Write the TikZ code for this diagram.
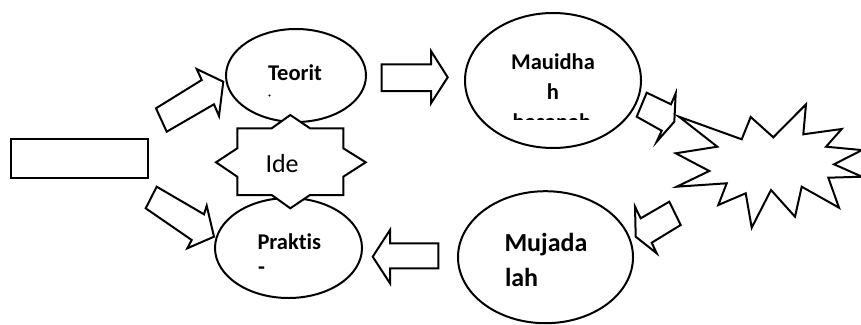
\documentclass[tikz,border=0pt]{standalone}
\usepackage{fontspec}
\setmainfont{Carlito}[Ligatures={NoCommon}]
\usetikzlibrary{shapes.geometric}
\begin{document}
\begin{tikzpicture}[x=1pt,y=-1pt, line width=2pt,
  shp/.style={draw=black, fill=white, line width=2pt},
  bubble/.style={ellipse, draw=black, line width=2pt, inner sep=0pt},
  lbl/.style={font=\bfseries\fontsize{22.5}{27}\selectfont, inner sep=0pt, anchor=base west},
  biglbl/.style={font=\bfseries\fontsize{26}{31}\selectfont, inner sep=0pt, anchor=base west}]
\useasboundingbox (0,0) rectangle (861,324);

% source box
\node[draw=black, line width=2pt, minimum width=136.7pt, minimum height=38.4pt, inner sep=0pt, anchor=north west] (src) at (10,138.3) {};

% ellipses
\node[bubble, minimum width=140pt, minimum height=93pt] (teorit) at (296,75.5) {};
\node[bubble, minimum width=147pt, minimum height=100pt] (praktis) at (288.5,248) {};
\node[bubble, minimum width=176pt, minimum height=135pt] (mauidhah) at (553,80.5) {};
\node[bubble, minimum width=175pt, minimum height=132pt] (mujadalah) at (545.5,257.2) {};

% Ide star
\draw[shp] (290.3,115) -- (310,128.3) -- (343.3,128.3) -- (343.3,148.3) -- (365.7,162.3)
  -- (343.3,176.7) -- (343.3,195) -- (310,195) -- (290.3,208.3) -- (271.7,195)
  -- (237.3,195) -- (237.3,176.7) -- (216,162.3) -- (237.3,148.3) -- (237.3,128.3)
  -- (271.7,128.3) -- cycle;
\node[font=\fontsize{26}{30}\selectfont, inner sep=0pt, anchor=base west] (ide) at (264.5,172.7) {Ide};

% block arrows
\draw[shp] (156,108.3) -- (201.7,80) -- (196.7,69) -- (223.3,81.7) -- (219,116) -- (214,104.3) -- (166.7,131.7) -- cycle;
\draw[shp] (156.7,186.7) -- (204,214.3) -- (206.7,205.7) -- (214,236.7) -- (187.3,248.3) -- (191.7,240) -- (145.7,208.3) -- cycle;
\draw[shp] (381.7,64.3) -- (431,64.3) -- (431,51) -- (447.7,77.3) -- (431,103.3) -- (431,91) -- (381.7,91) -- cycle;
\draw[shp] (646.7,92.7) -- (671,104.3) -- (675.7,93.3) -- (674.3,121.7) -- (656.7,141.7) -- (661.7,130.7) -- (636.7,116.7) -- cycle;
\draw[shp] (669.3,201.7) -- (640.7,218.3) -- (635,206.7) -- (635.7,236.7) -- (656.7,253.3) -- (651.7,242.7) -- (680.7,225) -- cycle;
\draw[shp] (438.3,243.3) -- (390,243.3) -- (390,230) -- (372.7,256.7) -- (390,283.3) -- (390,268.3) -- (438.3,268.3) -- cycle;

% explosion
\draw[shp] (679,116.7) -- (741.7,139.3) -- (750.7,117) -- (773.3,137.3) -- (806,104.3)
  -- (803.3,134.3) -- (841.7,129) -- (826,146.7) -- (862,150.1) -- (834,164.3)
  -- (862,176.7) -- (828.3,177.7) -- (839,207.7) -- (801.7,186.7) -- (795,216.7)
  -- (771,190) -- (751.7,227.7) -- (745.7,193.3) -- (718.3,205) -- (726.7,183.3)
  -- (676.7,186.7) -- (709.3,171) -- (675.7,153.3) -- (717.3,146.7) -- cycle;

% labels
\node[lbl] (lteorit) at (267,80) {Teorit};
\fill (269.5,95.5) circle (1.2pt);
\node[lbl] (lpraktis) at (256.5,249) {Praktis};
\node[lbl] (ldash) at (257,274) {-};
\node[lbl, anchor=base] (lmau1) at (553,69) {Mauidha};
\node[lbl, anchor=base] (lmau2) at (553,99) {h};
\begin{scope}
  \clip (500,105) rectangle (610,119.5);
  \node[lbl, anchor=base] (lmau3) at (552,129.5) {hasanah};
\end{scope}
\node[biglbl] (lmuj1) at (503.5,251) {Mujada};
\node[biglbl] (lmuj2) at (504,286) {lah};
\end{tikzpicture}
\end{document}
